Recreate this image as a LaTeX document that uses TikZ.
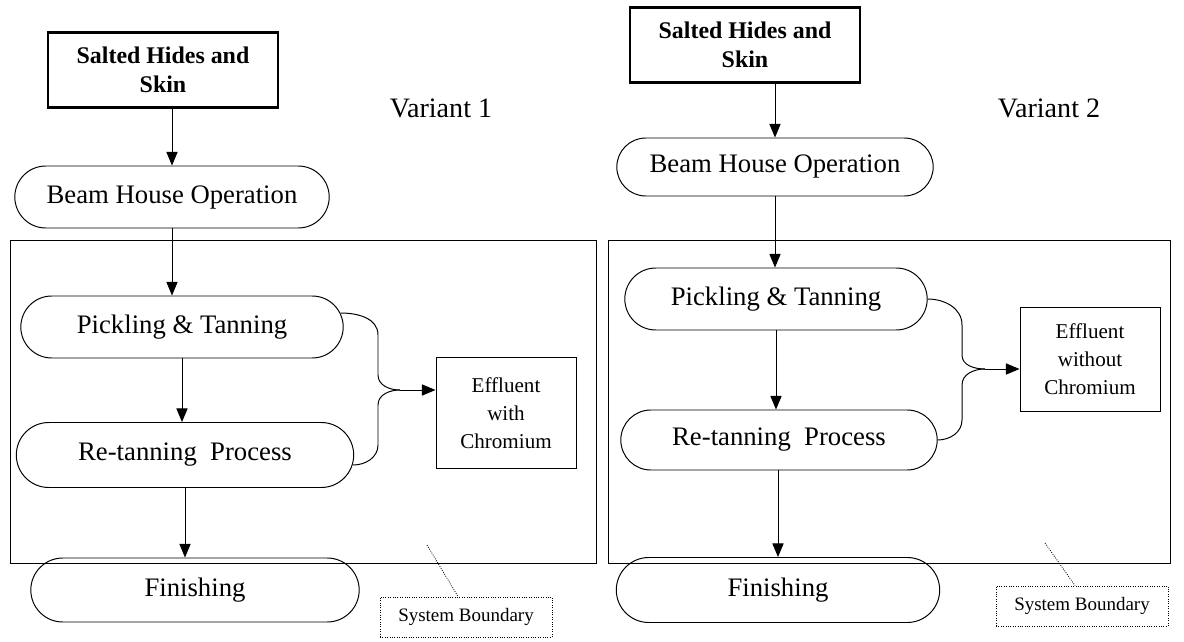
\documentclass[tikz,border=0pt]{standalone}
\usepackage{fontspec}
\setmainfont{Liberation Serif}
\usetikzlibrary{arrows.meta,positioning,shapes.misc,calc}

\begin{document}
\begin{tikzpicture}[
  x=0.25mm, y=-0.25mm,
  proc/.style={draw,line width=0.7pt,rounded rectangle,minimum height=15.5mm,inner sep=2pt,font=\fontsize{19}{22}\selectfont},
  srcbox/.style={draw,line width=1.8pt,minimum width=57.5mm,minimum height=18.75mm,align=center,font=\fontsize{17}{21}\selectfont\bfseries},
  effbox/.style={draw,line width=0.7pt,minimum width=35mm,align=center,font=\fontsize{15}{20}\selectfont},
  sbtag/.style={draw,densely dotted,line width=0.7pt,minimum width=43mm,minimum height=10mm,font=\fontsize{13.5}{15}\selectfont},
  vlabel/.style={font=\fontsize{20}{24}\selectfont},
  arrow/.style={-{Triangle[length=3.4mm,width=2.8mm]},line width=0.7pt},
  brace/.style={line width=0.7pt}
]
  \useasboundingbox (0,0) rectangle (1184,642);

  % variant 1
  \node[srcbox] (salt1) at (163,70) {Salted Hides and\\Skin};
  \node[proc, minimum width=80mm] (beam1) at (172,197) {Beam House Operation};
  \node[proc, minimum width=82mm] (pick1) at (182,327) {Pickling \& Tanning};
  \node[proc, minimum width=85.75mm, minimum height=16.25mm] (retan1) at (185,455) {Re-tanning\ \ Process};
  \node[proc, minimum width=83.5mm, minimum height=16mm] (fin1) at (195,590) {Finishing};
  \node[effbox, minimum height=27.75mm] (eff1) at (506,413) {Effluent\\with\\Chromium};
  \node[vlabel] (var1) at (441,108) {Variant 1};
  \node[sbtag] (sb1) at (466,617) {System Boundary};
  \draw[line width=0.6pt] (10,240) rectangle (596,563);

  \draw[arrow] (salt1.south -| beam1.north) -- (beam1.north);
  \draw[arrow] (beam1.south) -- (beam1.south |- pick1.north);
  \draw[arrow] (pick1.south) -- (pick1.south |- retan1.north);
  \draw[arrow] (retan1.south) -- (retan1.south |- fin1.north);

  \coordinate (j1) at (400,390);
  \draw[brace] ($(pick1.east)+(-3,-14)$) to[out=0,in=90] ($(j1)+(-22,-55)$)
    -- ($(j1)+(-22,-15)$) to[out=-90,in=180] (j1);
  \draw[brace] ($(retan1.east)+(-1,10)$) to[out=0,in=-90] ($(j1)+(-22,55)$)
    -- ($(j1)+(-22,15)$) to[out=90,in=180] (j1);
  \draw[arrow] (j1) -- (eff1.west |- j1);

  \coordinate (tip1) at (427,545);
  \draw[densely dotted,line width=0.6pt] (tip1) -- ($(sb1.north)+(-8,0)$);

  % variant 2
  \node[srcbox] (salt2) at (745,45) {Salted Hides and\\Skin};
  \node[proc, minimum width=80.5mm, minimum height=14.5mm] (beam2) at (775,167) {Beam House Operation};
  \node[proc, minimum width=77mm] (pick2) at (776,299) {Pickling \& Tanning};
  \node[proc, minimum width=80.5mm, minimum height=15mm] (retan2) at (779,440) {Re-tanning\ \ Process};
  \node[proc, minimum width=82.25mm, minimum height=16.25mm] (fin2) at (778,590) {Finishing};
  \node[effbox, minimum height=26mm] (eff2) at (1090,359) {Effluent\\without\\Chromium};
  \node[vlabel] (var2) at (1049,108) {Variant 2};
  \node[sbtag] (sb2) at (1082,606) {System Boundary};
  \draw[line width=0.6pt] (608,240) rectangle (1170,563);

  \draw[arrow] (salt2.south -| beam2.north) -- (beam2.north);
  \draw[arrow] (beam2.south) -- (beam2.south |- pick2.north);
  \draw[arrow] (pick2.south) -- (pick2.south |- retan2.north);
  \draw[arrow] (retan2.south -| fin2.north) -- (fin2.north);

  \coordinate (j2) at (985,369);
  \draw[brace] (pick2.east) to[out=0,in=90] ($(j2)+(-23,-44)$)
    -- ($(j2)+(-23,-14)$) to[out=-90,in=180] (j2);
  \draw[brace] (retan2.east) to[out=0,in=-90] ($(j2)+(-23,51)$)
    -- ($(j2)+(-23,16)$) to[out=90,in=180] (j2);
  \draw[arrow] (j2) -- (eff2.west |- j2);

  \coordinate (tip2) at (1045,543);
  \draw[densely dotted,line width=0.6pt] (tip2) -- ($(sb2.north)+(-7,0)$);
\end{tikzpicture}
\end{document}
